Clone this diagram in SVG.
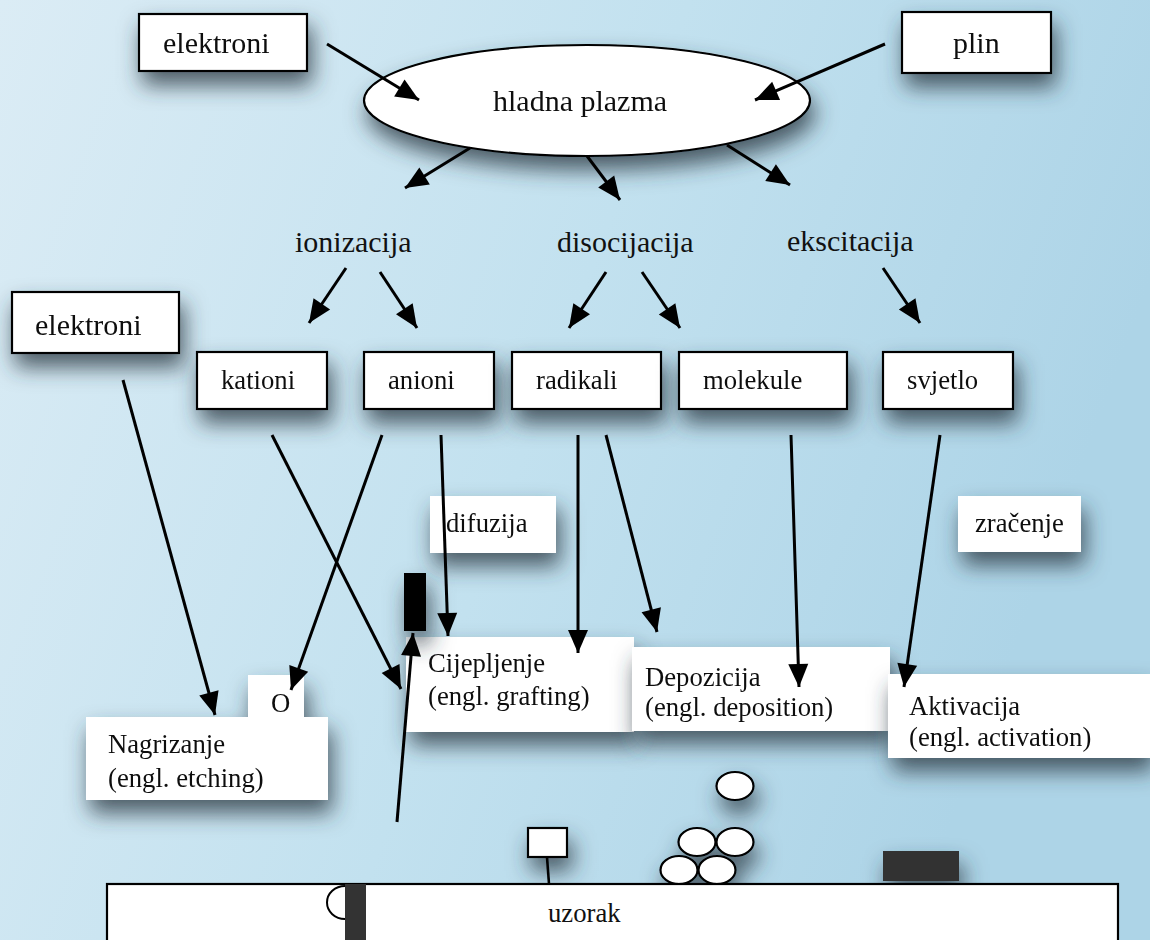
<svg xmlns="http://www.w3.org/2000/svg" width="1150" height="940" viewBox="0 0 1150 940">
<defs>
<linearGradient id="bg" x1="0" y1="0" x2="1" y2="0.3">
<stop offset="0" stop-color="#dbecf5"/>
<stop offset="0.55" stop-color="#c2e1ef"/>
<stop offset="1" stop-color="#add4e7"/>
</linearGradient>
<filter id="sh" x="-40%" y="-50%" width="180%" height="220%">
<feGaussianBlur in="SourceAlpha" stdDeviation="11"/>
<feOffset dx="4" dy="13" result="b"/>
<feFlood flood-color="#2a3842" flood-opacity="0.8"/>
<feComposite in2="b" operator="in"/>
<feMerge><feMergeNode/><feMergeNode in="SourceGraphic"/></feMerge>
</filter>
<marker id="ah" markerUnits="userSpaceOnUse" markerWidth="26" markerHeight="22" refX="23" refY="10" orient="auto" overflow="visible">
<path d="M0,0 L23,10 L0,20 z" fill="#000"/>
</marker>
<style>
.t{font-family:"Liberation Serif","Times New Roman",serif;fill:#111}
.big{font-size:30px}
.sm{font-size:26.7px}
.box{fill:#fff;stroke:#000;stroke-width:2.2}
.wb{fill:#fff}
.c{stroke:#000;stroke-width:3;fill:none;marker-end:url(#ah)}
.ln{stroke:#000;stroke-width:2.6;fill:none}
.el{fill:#fff;stroke:#000;stroke-width:2.2}
</style>
</defs>
<rect width="1150" height="940" fill="url(#bg)"/>

<g id="n-elektroni-top" filter="url(#sh)"><rect class="box" x="139" y="14" width="168" height="57"/><text class="t big" x="163" y="53">elektroni</text></g>
<g id="n-plin" filter="url(#sh)"><rect class="box" x="902" y="12" width="149" height="61"/><text class="t big" x="953" y="53">plin</text></g>
<g id="n-plazma" filter="url(#sh)"><ellipse class="el" cx="587" cy="100.5" rx="223" ry="55.5"/><text class="t big" x="493" y="111">hladna plazma</text></g>

<g id="n-ionizacija"><text class="t big" x="295" y="252">ionizacija</text></g>
<g id="n-disocijacija"><text class="t big" x="557" y="252">disocijacija</text></g>
<g id="n-ekscitacija"><text class="t big" x="787" y="251">ekscitacija</text></g>

<g id="n-elektroni-left" filter="url(#sh)"><rect class="box" x="12" y="292" width="167" height="61"/><text class="t big" x="35" y="335">elektroni</text></g>
<g id="n-kationi" filter="url(#sh)"><rect class="box" x="197" y="352" width="130" height="57"/><text class="t sm" x="221" y="389">kationi</text></g>
<g id="n-anioni" filter="url(#sh)"><rect class="box" x="364" y="352" width="130" height="57"/><text class="t sm" x="388" y="389">anioni</text></g>
<g id="n-radikali" filter="url(#sh)"><rect class="box" x="512" y="352" width="149" height="57"/><text class="t sm" x="536" y="389">radikali</text></g>
<g id="n-molekule" filter="url(#sh)"><rect class="box" x="679" y="352" width="168" height="57"/><text class="t sm" x="703" y="389">molekule</text></g>
<g id="n-svjetlo" filter="url(#sh)"><rect class="box" x="883" y="352" width="130" height="57"/><text class="t sm" x="907" y="389">svjetlo</text></g>

<g id="n-difuzija" filter="url(#sh)"><rect class="wb" x="430" y="496" width="126" height="57"/><text class="t sm" x="446" y="532">difuzija</text></g>
<g id="n-zracenje" filter="url(#sh)"><rect class="wb" x="958" y="496" width="123" height="56"/><text class="t sm" x="975" y="532">zračenje</text></g>

<g id="n-nagrizanje" filter="url(#sh)"><rect class="wb" x="248" y="675" width="56" height="45"/><rect class="wb" x="86" y="717" width="242" height="83"/><text class="t sm" x="271" y="712">O</text><text class="t sm" x="108" y="753">Nagrizanje</text><text class="t sm" x="108" y="787">(engl. etching)</text></g>
<g id="n-cijepljenje" filter="url(#sh)"><rect class="wb" x="406" y="637" width="228" height="95"/><text class="t sm" x="428" y="672">Cijepljenje</text><text class="t sm" x="428" y="705">(engl. grafting)</text></g>
<g id="n-depozicija" filter="url(#sh)"><rect class="wb" x="632" y="647" width="258" height="84"/><text class="t sm" x="645" y="686">Depozicija</text><text class="t sm" x="645" y="716">(engl. deposition)</text></g>
<g id="n-aktivacija" filter="url(#sh)"><rect class="wb" x="888" y="674" width="262" height="84"/><text class="t sm" x="909" y="715">Aktivacija</text><text class="t sm" x="909" y="746">(engl. activation)</text></g>

<g id="n-cestice" filter="url(#sh)">
<rect x="404" y="573" width="22" height="58" fill="#000"/>
<rect class="el" x="528" y="828" width="39" height="29"/>
<ellipse class="el" cx="735" cy="786" rx="18.5" ry="14"/>
<ellipse class="el" cx="697" cy="842" rx="18.5" ry="14"/>
<ellipse class="el" cx="735" cy="842" rx="18.5" ry="14"/>
<ellipse class="el" cx="679" cy="870" rx="18.5" ry="14"/>
<ellipse class="el" cx="717" cy="870" rx="18.5" ry="14"/>
<rect x="883" y="851" width="76" height="30" fill="#333"/>
</g>
<line class="ln" x1="547" y1="857" x2="549" y2="884"/>

<g id="n-uzorak">
<rect class="box" x="107" y="884" width="1011" height="60"/>
<path d="M345,886 A18,16.5 0 0 0 345,919" fill="#fff" stroke="#000" stroke-width="2"/>
<rect x="345" y="884" width="21" height="56" fill="#333"/>
<text class="t sm" x="548" y="922">uzorak</text>
</g>

<g id="connectors">
<line class="c" x1="327" y1="44" x2="419" y2="100"/>
<line class="c" x1="885" y1="44" x2="755" y2="100"/>
<line class="c" x1="470" y1="148" x2="405" y2="188"/>
<line class="c" x1="587" y1="156" x2="620" y2="200"/>
<line class="c" x1="727" y1="145" x2="790" y2="185"/>
<line class="c" x1="346" y1="268" x2="309" y2="323"/>
<line class="c" x1="380" y1="272" x2="417" y2="328"/>
<line class="c" x1="606" y1="272" x2="569" y2="328"/>
<line class="c" x1="642" y1="272" x2="680" y2="328"/>
<line class="c" x1="883" y1="268" x2="920" y2="323"/>
<line class="c" x1="123" y1="380" x2="215" y2="715"/>
<line class="c" x1="272" y1="435" x2="401" y2="689"/>
<line class="c" x1="382" y1="435" x2="291" y2="690"/>
<line class="c" x1="441" y1="435" x2="448" y2="636"/>
<line class="c" x1="578" y1="435" x2="578" y2="653"/>
<line class="c" x1="606" y1="435" x2="657" y2="632"/>
<line class="c" x1="791" y1="435" x2="799" y2="687"/>
<line class="c" x1="940" y1="435" x2="904" y2="687"/>
<line class="c" x1="397" y1="822" x2="413" y2="633"/>
</g>
</svg>
